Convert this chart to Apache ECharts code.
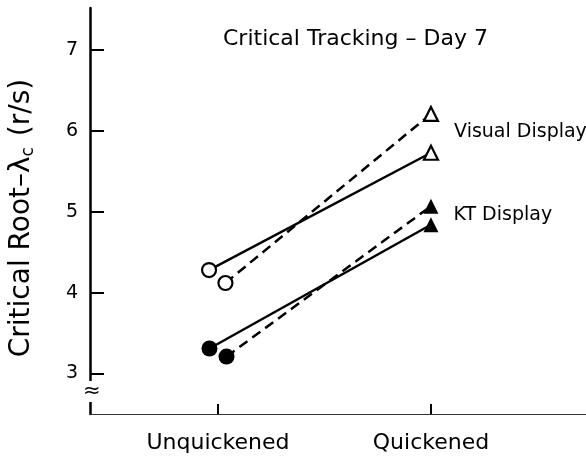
<!DOCTYPE html>
<html>
<head>
<meta charset="utf-8">
<script src="https://cdn.jsdelivr.net/npm/echarts@6/dist/echarts.min.js"></script>
<style>html,body{margin:0;padding:0;background:#fff}#c{width:586px;height:456px}</style>
</head>
<body>
<div id="c"></div>
<script>
const categories = ['Unquickened', 'Quickened'];
const yTicks = [3, 4, 5, 6, 7];
const visualSolid = [4.28, 5.73];
const visualDashed = [4.12, 6.21];
const ktSolid = [3.31, 4.84];
const ktDashed = [3.21, 5.07];
const seriesLabels = ['Visual Display', 'KT Display'];
const titleText = 'Critical Tracking \u2013 Day 7';

const chart = echarts.init(document.getElementById('c'), null, {renderer: 'canvas'});
const FONT = 'DejaVu Sans';
function mk(name, vals, off, filled, dashed, label, labelOffset) {
  return {
    name: name, type: 'line', z: 3,
    data: vals.map((v, i) => ({
      value: [i + (i === 0 ? off : 0), v],
      symbol: i === 0 ? 'circle' : 'triangle',
      symbolSize: i === 0 ? (filled ? 16 : 14) : (filled ? 15 : 14),
      label: (i === 1 && label) ? {
        show: true, position: 'right', distance: 15, formatter: label,
        color: '#000', fontFamily: FONT, fontSize: 19, offset: labelOffset
      } : {show: false}
    })),
    lineStyle: {color: '#000', width: 2.5, type: dashed ? [10, 6] : 'solid'},
    itemStyle: {color: filled ? '#000' : '#fff', borderColor: '#000', borderWidth: filled ? 0 : 2.2},
    showSymbol: true, animation: false, silent: true
  };
}
const option = {
  animation: false,
  backgroundColor: '#fff',
  grid: {left: 90, right: 0, top: 8, bottom: 42},
  xAxis: {
    type: 'value', min: -0.601, max: 1.728,
    splitLine: {show: false},
    axisLine: {show: true, onZero: false, lineStyle: {color: '#333', width: 1.2}},
    axisTick: {show: true, inside: true, length: 10, customValues: [0, 1], lineStyle: {color: '#000', width: 2}},
    axisLabel: {
      show: true, customValues: [0, 1], margin: 18,
      formatter: v => categories[Math.round(v)],
      fontFamily: FONT, fontSize: 22, color: '#000'
    }
  },
  yAxis: {
    type: 'value', min: 2.5, max: 7.52,
    splitLine: {show: false},
    axisLine: {show: true, onZero: false, lineStyle: {color: '#000', width: 2.5}},
    axisTick: {show: true, inside: true, length: 14, customValues: yTicks, lineStyle: {color: '#000', width: 2}},
    axisLabel: {show: true, customValues: yTicks, margin: 12, fontFamily: FONT, fontSize: 19, color: '#000'}
  },
  graphic: [
    {
      type: 'text', left: 223, top: 28, z: 10,
      style: {text: titleText, fontSize: 22, fontFamily: FONT, fill: '#000'}
    },
    {
      type: 'text', x: 22, y: 218, rotation: Math.PI / 2, z: 10,
      style: {
        text: 'Critical Root\u2013\u03bb{s|c} (r/s)', fontSize: 28, fontFamily: FONT, fill: '#000',
        align: 'center', verticalAlign: 'middle',
        rich: {s: {fontSize: 17, fontFamily: FONT, fill: '#000', padding: [14, 2, 0, 0]}}
      }
    },
    {
      type: 'text', left: 83, top: 381, z: 10,
      style: {text: '\u2248', fontSize: 21, fontFamily: FONT, fill: '#000', backgroundColor: '#fff'}
    }
  ],
  series: [
    mk('Visual solid', visualSolid, -0.042, false, false, seriesLabels[0], [0, -21]),
    mk('Visual dashed', visualDashed, 0.035, false, true, null),
    mk('KT solid', ktSolid, -0.04, true, false, seriesLabels[1], [0, -10]),
    mk('KT dashed', ktDashed, 0.04, true, true, null)
  ]
};
chart.setOption(option);
</script>
</body>
</html>
